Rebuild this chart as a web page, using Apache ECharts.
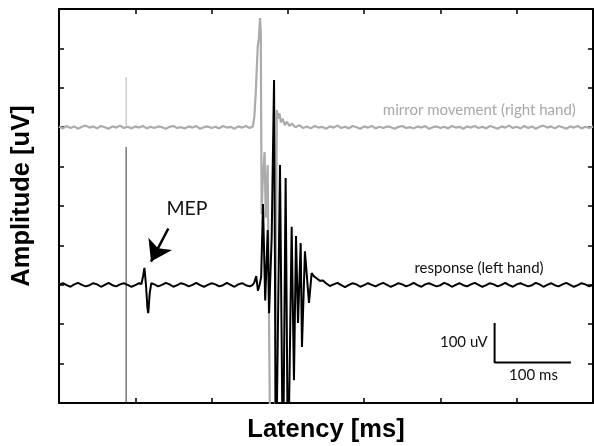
<!DOCTYPE html>
<html>
<head>
<meta charset="utf-8">
<script src="https://cdn.jsdelivr.net/npm/echarts@6/dist/echarts.min.js"></script>
<style>
  html, body { margin: 0; padding: 0; background: #fff; }
  #chart { width: 594px; height: 446px; }
</style>
</head>
<body>
<div id="chart"></div>
<script>
// Axis ranges (latency in ms, amplitude in uV, traces stacked with offsets)
var latencyRange = [0, 700];
var latencyStep = 100;
var amplitudeRange = [0, 1000];
var amplitudeStep = 100;

// Mirror movement trace (right hand), offset baseline 700 uV: [ms, uV]
var mirrorTrace = [
  [0,701],[5,697],[10,703],[15,698],[20,702],[25,696],[30,701],[35,704],[40,699],[45,702],
  [50,697],[55,703],[60,700],[65,696],[70,702],[75,699],[80,704],[85,698],[90,701],[95,697],
  [100,702],[105,699],[110,703],[115,697],[120,701],[125,698],[130,702],[135,700],[140,696],[145,701],
  [150,703],[155,698],[160,700],[165,697],[170,702],[175,699],[180,703],[185,696],[190,700],[195,702],
  [200,698],[205,701],[210,697],[215,703],[220,699],[225,701],[230,696],[235,702],[240,699],[245,703],
  [250,698],[254,702],[256,725],[258,790],[259.5,860],[260.5,905],[262,925],[263,960],[263.6,977],[264.5,940],
  [265.6,480],[267,560],[269.5,637],[271,470],[273.5,604],[277,-150],[283,-150],[285.5,744],[287,722],[289,735],
  [291,712],[293,722],[296,705],[299,714],[302,703],[305,709],[310,700],[315,705],[320,698],[325,702],
  [330,697],[335,703],[340,699],[345,701],[350,696],[355,702],[360,699],[365,704],[370,698],[375,701],
  [380,697],[385,703],[390,700],[395,696],[400,702],[405,699],[410,703],[415,697],[420,701],[425,698],
  [430,702],[435,700],[440,696],[445,701],[450,703],[455,698],[460,700],[465,697],[470,702],[475,699],
  [480,703],[485,696],[490,700],[495,702],[500,698],[505,701],[510,697],[515,703],[520,699],[525,701],
  [530,696],[535,702],[540,699],[545,703],[550,698],[555,701],[560,697],[565,703],[570,700],[575,696],
  [580,702],[585,699],[590,704],[595,698],[600,701],[605,697],[610,703],[615,698],[620,702],[625,696],
  [630,701],[635,704],[640,699],[645,702],[650,697],[655,703],[660,700],[665,696],[670,702],[675,699],
  [680,703],[685,697],[690,701],[695,698],[700,702]
];

// Response trace (left hand), offset baseline 300 uV: [ms, uV]
var responseTrace = [
  [0,300],[5,304],[10,299],[15,295],[20,301],[25,305],[30,300],[35,296],[40,299],[45,304],
  [50,301],[55,295],[60,300],[65,305],[70,299],[75,296],[80,301],[85,304],[90,300],[95,295],
  [100,299],[105,304],[108,302],[110,320],[112,343],[114,300],[116,240],[117,228],[119,280],[121,304],
  [125,301],[130,296],[135,300],[140,305],[145,301],[150,295],[155,299],[160,304],[165,301],[170,296],
  [175,300],[180,305],[185,299],[190,295],[195,300],[200,304],[205,301],[210,296],[215,299],[220,305],
  [225,300],[230,295],[235,301],[240,304],[245,299],[250,296],[254,300],[256,306],[258.5,322],[260.8,285],
  [263,300],[265,320],[267.4,505],[270.3,260],[273.6,439],[275.4,228],[278.8,421],[281.9,820],[284.4,-200],[289.7,604],
  [293.6,-200],[297.1,571],[300.2,-200],[305,447],[308,58],[310.7,424],[313.3,203],[316.8,406],[318.5,142],[322.4,385],
  [327.7,254],[331.2,330],[334,322],[338,316],[342,310],[346,311],[350,304],[355,297],[360,301],[365,305],
  [370,299],[375,294],[380,300],[385,304],[390,301],[395,295],[400,299],[405,304],[410,300],[415,296],
  [420,301],[425,305],[430,300],[435,295],[440,299],[445,304],[450,301],[455,296],[460,300],[465,305],
  [470,299],[475,295],[480,301],[485,304],[490,300],[495,296],[500,299],[505,305],[510,301],[515,295],
  [520,300],[525,304],[530,299],[535,296],[540,301],[545,305],[550,300],[555,295],[560,299],[565,304],
  [570,301],[575,296],[580,300],[585,305],[590,299],[595,295],[600,301],[605,304],[610,300],[615,296],
  [620,299],[625,305],[630,301],[635,295],[640,300],[645,304],[650,299],[655,296],[660,301],[665,305],
  [670,300],[675,295],[680,299],[685,304],[690,301],[695,296],[700,300]
];

// Stimulus artifact at the TMS pulse
var stimulusTime = 88;
var mirrorArtifact = [700, 827];
var responseArtifact = [650, -300];

// Scale bar: corner and lengths
var scaleBarCorner = [571, 103];
var scaleBarMs = 100;
var scaleBarUv = 100;

// Annotations
var mepArrowFrom = [143.3, 443];
var mepArrowTo = [120.6, 359];
var textLabels = [
  { text: 'MEP', at: [167.8, 492], color: '#111', size: 19.5 },
  { text: 'mirror movement (right hand)', at: [551, 742], color: '#a8a8a8', size: 15 },
  { text: 'response (left hand)', at: [550.6, 342], color: '#111', size: 15 },
  { text: '100 uV', at: [530.6, 155.6], color: '#111', size: 15 },
  { text: '100 ms', at: [622, 71], color: '#111', size: 15 }
];

var labelFont = 'Lato';
var axisNameFont = '"Liberation Sans", Arial, sans-serif';

function frameAxis(pos, range, step, extra) {
  var ax = {
    type: 'value',
    position: pos,
    min: range[0],
    max: range[1],
    interval: step,
    axisLine: { show: true, onZero: false, lineStyle: { color: '#000', width: 2 } },
    axisTick: { show: true, inside: true, length: 5, lineStyle: { color: '#000', width: 1.5 } },
    axisLabel: { show: false },
    splitLine: { show: false }
  };
  for (var k in extra) ax[k] = extra[k];
  return ax;
}

var chart = echarts.init(document.getElementById('chart'), null, { renderer: 'canvas' });

var option = {
  animation: false,
  backgroundColor: '#fff',
  grid: { left: 59, right: 1, top: 9, bottom: 43, containLabel: false, outerBoundsMode: 'none' },
  xAxis: [
    frameAxis('bottom', latencyRange, latencyStep, {
      name: 'Latency [ms]',
      nameLocation: 'middle',
      nameGap: 14,
      nameTextStyle: { fontFamily: axisNameFont, fontWeight: 'bold', fontSize: 25.5, color: '#000' }
    }),
    frameAxis('top', latencyRange, latencyStep, {})
  ],
  yAxis: [
    frameAxis('left', amplitudeRange, amplitudeStep, {
      name: 'Amplitude [uV]',
      nameLocation: 'middle',
      nameGap: 24,
      nameTextStyle: { fontFamily: axisNameFont, fontWeight: 'bold', fontSize: 25.5, color: '#000', padding: [0, 0, 0, 20] }
    }),
    frameAxis('right', amplitudeRange, amplitudeStep, {})
  ],
  series: [
    {
      name: 'mirror artifact',
      type: 'line',
      data: mirrorArtifact.map(function (v) { return [stimulusTime, v]; }),
      symbol: 'none',
      lineStyle: { color: '#b4b4b4', width: 1 },
      z: 2
    },
    {
      name: 'mirror movement',
      type: 'line',
      data: mirrorTrace,
      symbol: 'none',
      lineStyle: { color: '#ababab', width: 2.2 },
      z: 3
    },
    {
      name: 'response artifact',
      type: 'line',
      data: responseArtifact.map(function (v) { return [stimulusTime, v]; }),
      symbol: 'none',
      lineStyle: { color: '#333', width: 1 },
      z: 4
    },
    {
      name: 'response',
      type: 'line',
      data: responseTrace,
      symbol: 'none',
      lineStyle: { color: '#000', width: 2 },
      z: 5,
      markLine: {
        silent: true,
        symbol: ['none', 'arrow'],
        symbolSize: 20,
        label: { show: false },
        lineStyle: { color: '#000', width: 2.5, type: 'solid' },
        data: [[{ coord: mepArrowFrom }, { coord: mepArrowTo }]]
      },
      markPoint: {
        silent: true,
        symbol: 'rect',
        symbolSize: 1,
        itemStyle: { color: 'rgba(0,0,0,0)' },
        data: textLabels.map(function (t) {
          return {
            coord: t.at,
            label: {
              show: true,
              position: 'inside',
              formatter: t.text,
              color: t.color,
              fontSize: t.size,
              fontFamily: labelFont
            }
          };
        })
      }
    },
    {
      name: 'scale bar',
      type: 'line',
      data: [
        [scaleBarCorner[0], scaleBarCorner[1] + scaleBarUv],
        [scaleBarCorner[0], scaleBarCorner[1]],
        [scaleBarCorner[0] + scaleBarMs, scaleBarCorner[1]]
      ],
      symbol: 'none',
      lineStyle: { color: '#000', width: 2 },
      z: 6
    }
  ]
};

chart.setOption(option);
</script>
</body>
</html>
